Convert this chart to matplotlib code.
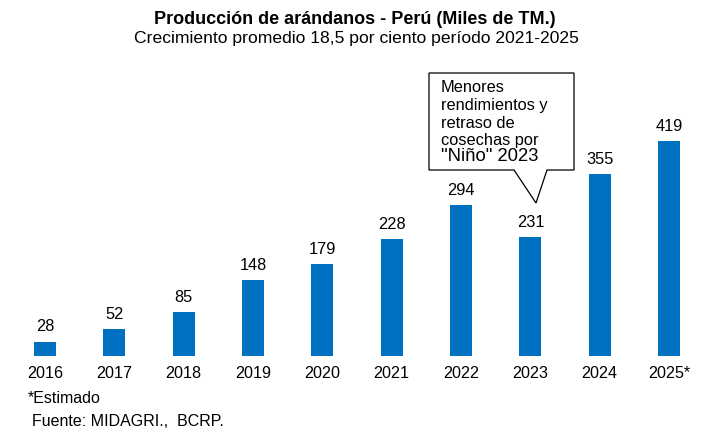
import matplotlib.pyplot as plt
from matplotlib.patches import Polygon

years = ["2016", "2017", "2018", "2019", "2020", "2021", "2022", "2023", "2024", "2025*"]
values = [28, 52, 85, 148, 179, 228, 294, 231, 355, 419]

W, H = 704, 436
plt.rcParams['font.family'] = ['Liberation Sans', 'DejaVu Sans']

fig = plt.figure(figsize=(W / 100, H / 100), dpi=100)
ax = fig.add_axes([10.35 / W, 80 / H, 693.3 / W, 296 / H])

x = range(len(years))
bars = ax.bar(x, values, width=0.32, color='#0070C0')
for xi, v in zip(x, values):
    ax.text(xi, v + 14, str(v), ha='center', va='bottom', fontsize=11.8)

ax.set_xlim(-0.5, len(years) - 0.5)
ax.set_ylim(0, 577)
ax.set_xticks(list(x))
ax.set_xticklabels(years, fontsize=11.6)
ax.tick_params(axis='x', length=0, pad=7)
ax.set_yticks([])
for s in ax.spines.values():
    s.set_visible(False)


def px(xp, yp):
    return (xp / W, 1 - yp / H)


fig.text(*px(355, 20), "Producción de arándanos - Perú (Miles de TM.)",
         ha='center', va='center', fontsize=13, fontweight='bold')
fig.text(*px(356, 38), "Crecimiento promedio 18,5 por ciento período 2021-2025",
         ha='center', va='center', fontsize=12.6)

fig.text(*px(28, 398), "*Estimado", ha='left', va='center', fontsize=11.5)
fig.text(*px(32, 421), "Fuente: MIDAGRI.,  BCRP.", ha='left', va='center', fontsize=11.5)

# callout box
pts = [px(429, 73), px(574, 73), px(574, 170), px(547, 170), px(536, 203),
       px(514, 170), px(429, 170)]
fig.patches.append(Polygon(pts, closed=True, transform=fig.transFigure,
                           facecolor='white', edgecolor='black', lw=0.9))
lines = ["Menores", "rendimientos y", "retraso de", "cosechas por"]
for i, t in enumerate(lines):
    fig.text(*px(441, 88 + i * 17.5), t, ha='left', va='center', fontsize=11.8)
fig.text(*px(441, 156), '"Niño" 2023', ha='left', va='center', fontsize=13.3)

fig.savefig('out.png', dpi=100)
